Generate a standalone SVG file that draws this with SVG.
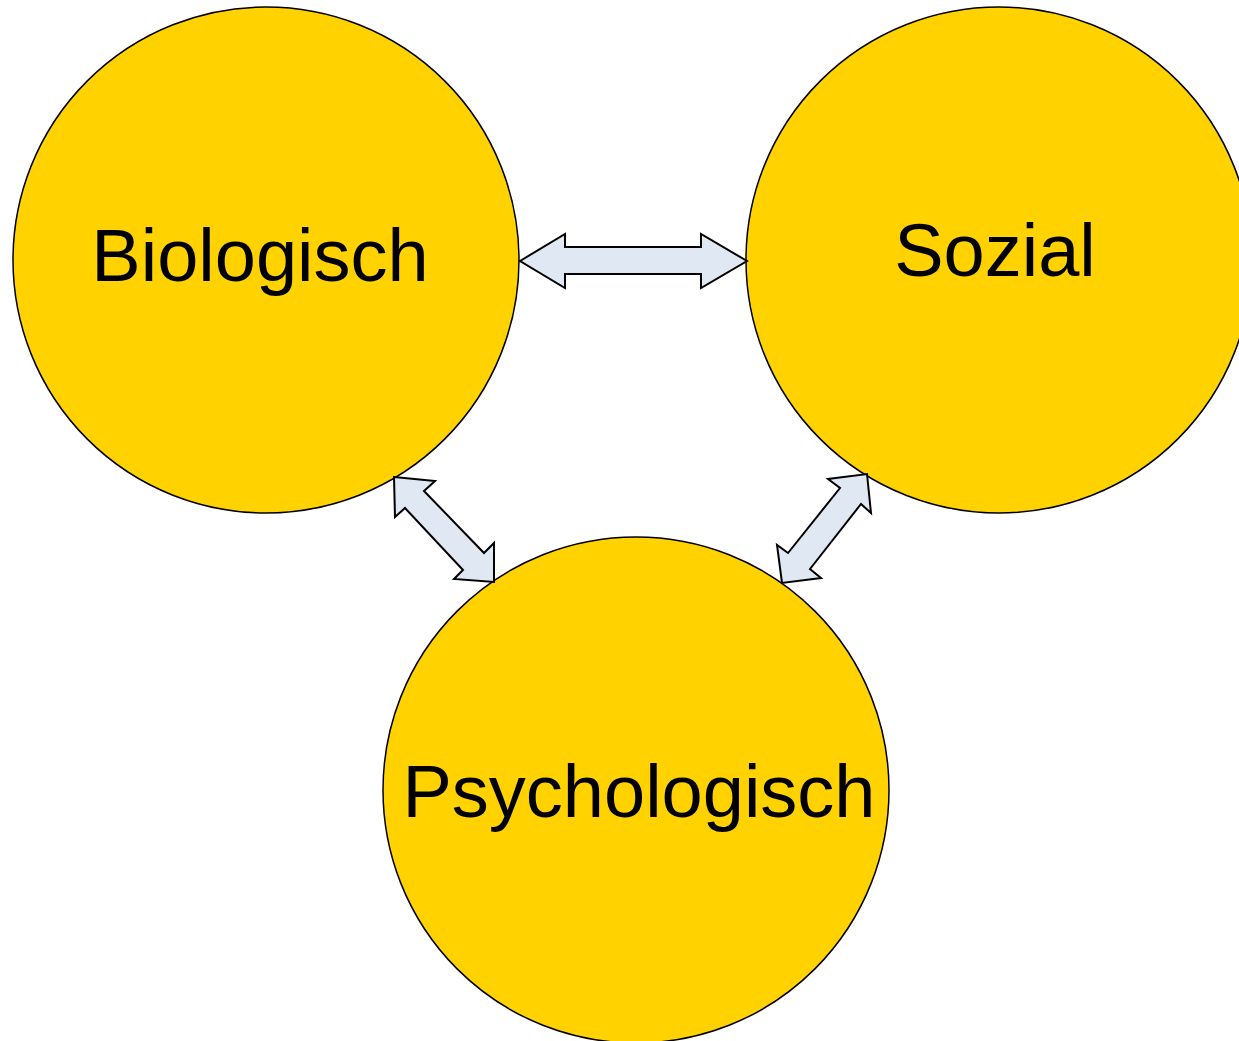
<svg xmlns="http://www.w3.org/2000/svg" width="1239" height="1041" viewBox="0 0 1239 1041">
<style>
.node{fill:#FFD200;stroke:#000;stroke-width:1.5}
.lbl{font-family:"Liberation Sans",Arial,sans-serif;font-size:74px;fill:#000;text-anchor:middle}
.arr{fill:#DFE8F3;stroke:#000;stroke-width:2;stroke-linejoin:miter}
</style>
<rect width="1239" height="1041" fill="#fff"/>
<g id="biologisch"><circle class="node" cx="266" cy="260" r="253"/><text class="lbl" x="260" y="281">Biologisch</text></g>
<g id="sozial"><circle class="node" cx="999" cy="260" r="253"/><text class="lbl" x="995" y="276">Sozial</text></g>
<g id="psychologisch"><circle class="node" cx="636" cy="790" r="253"/><text class="lbl" x="639" y="817">Psychologisch</text></g>
<g id="connectors">
<polygon class="arr" points="520,261 565,234 565,247 701,247 701,234 747,261 701,288 701,274 565,274 565,288"/>
<polygon class="arr" points="394,477 435,481 424,491 484,553 494,543 494,582 454,579 463,570 405,508 395,517"/>
<polygon class="arr" points="867,474 871,513 861,504 810,569 821,578 782,583 777,545 788,553 840,488 828,479"/>
</g>
</svg>
